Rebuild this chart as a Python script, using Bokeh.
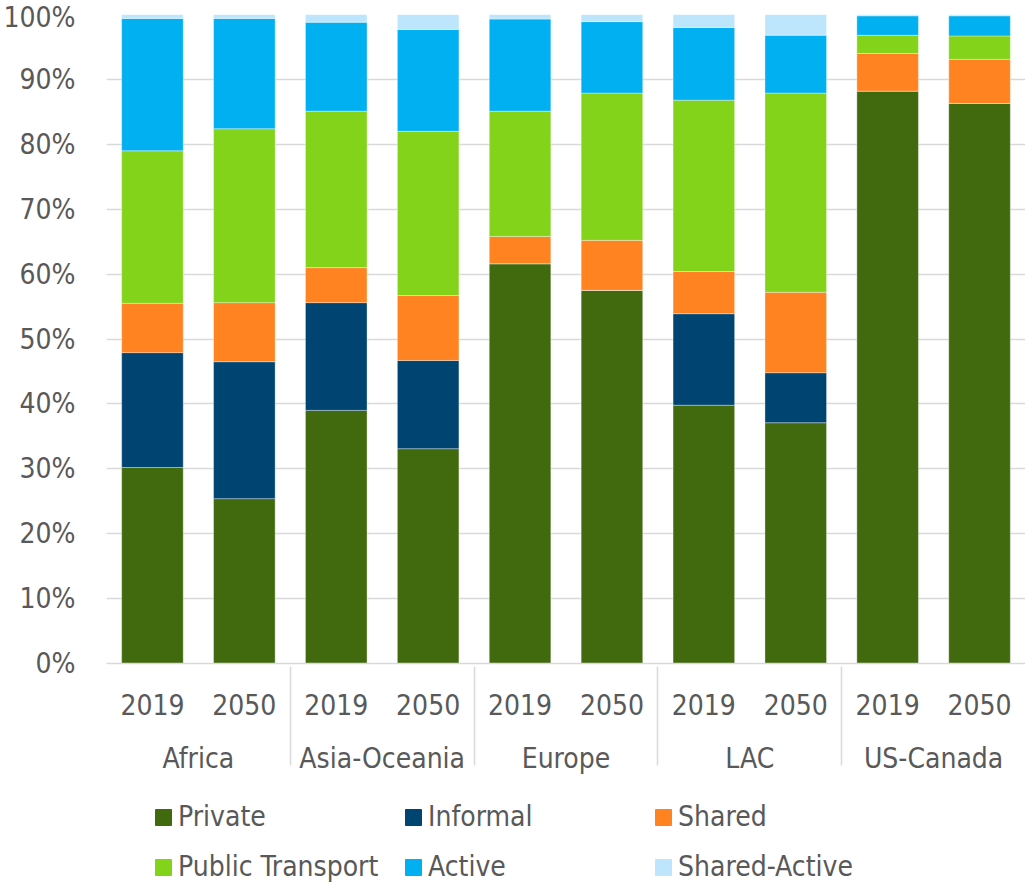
from bokeh.plotting import figure
from bokeh.layouts import column
from bokeh.models import (ColumnDataSource, FactorRange, Range1d, FixedTicker,
                          PrintfTickFormatter, Legend, LegendItem)
from bokeh.embed import file_html
from bokeh.resources import INLINE

regions = ["Africa", "Asia-Oceania", "Europe", "LAC", "US-Canada"]
years = ["2019", "2050"]

private = [30.2, 25.4, 39.0, 33.1, 61.6, 57.5, 39.8, 37.1, 88.2, 86.3]
informal = [17.7, 21.1, 16.6, 13.6, 0.0, 0.0, 14.1, 7.7, 0.0, 0.0]
shared = [7.6, 9.1, 5.4, 10.0, 4.2, 7.7, 6.5, 12.4, 5.8, 6.8]
public_transport = [23.5, 26.8, 24.1, 25.3, 19.3, 22.7, 26.4, 30.7, 2.8, 3.6]
active = [20.4, 17.0, 13.7, 15.7, 14.2, 11.0, 11.2, 8.9, 3.0, 3.1]
shared_active = [0.6, 0.6, 1.2, 2.3, 0.7, 1.1, 2.0, 3.2, 0.2, 0.2]

series_names = ["Private", "Informal", "Shared", "Public Transport", "Active", "Shared-Active"]
series_keys = ["private", "informal", "shared", "pt", "active", "sa"]
colors = ["#41690E", "#004472", "#FF8321", "#83D31A", "#00B0F0", "#BDE6FC"]

FONT = "DejaVu Sans Condensed"
FS = "28px"
TXT = "#595959"
GRID = "#D9D9D9"

factors = [(r, y) for r in regions for y in years]
source = ColumnDataSource(data=dict(
    x=factors, private=private, informal=informal, shared=shared,
    pt=public_transport, active=active, sa=shared_active))

# ---- main chart ----
p = figure(width=1025, height=788, output_backend="svg", toolbar_location=None,
           x_range=FactorRange(*factors, factor_padding=0, group_padding=0, range_padding=0),
           y_range=Range1d(0, 100),
           min_border_left=106, min_border_right=0, min_border_top=14, min_border_bottom=125)

p.vbar_stack(series_keys, x="x", width=0.67, source=source, color=colors,
             line_color="white", line_alpha=0.35, line_width=1)

p.outline_line_color = None
p.xgrid.grid_line_color = None
p.ygrid.grid_line_color = GRID
p.ygrid.grid_line_width = 1.5

yax = p.yaxis[0]
yax.ticker = FixedTicker(ticks=list(range(0, 101, 10)))
yax.formatter = PrintfTickFormatter(format="%d%%")
yax.axis_line_color = None
yax.major_tick_line_color = None
yax.minor_tick_line_color = None
yax.major_tick_out = 0
yax.minor_tick_out = 0
yax.major_label_standoff = 31
yax.major_label_text_font = FONT
yax.major_label_text_font_size = FS
yax.major_label_text_color = TXT

xax = p.xaxis[0]
xax.axis_line_color = GRID
xax.axis_line_width = 1.5
xax.major_tick_line_color = None
xax.major_label_text_font = FONT
xax.major_label_text_font_size = FS
xax.major_label_text_color = TXT
xax.major_label_standoff = 24
xax.group_text_font = FONT
xax.group_text_font_size = FS
xax.group_text_font_style = "normal"
xax.group_text_color = TXT
xax.group_label_orientation = "horizontal"
xax.separator_line_color = GRID
xax.separator_line_width = 1.5

# ---- legend strip ----
lg = figure(width=1025, height=95, output_backend="svg", toolbar_location=None,
            x_axis_location=None, y_axis_location=None, min_border=0,
            x_range=p.x_range, y_range=Range1d(101, 102))
lg.outline_line_color = None
lg.xgrid.visible = False
lg.ygrid.visible = False
lrend = lg.vbar_stack(series_keys, x="x", width=0.67, source=source, color=colors)

items = [LegendItem(label=n, renderers=[r]) for n, r in zip(series_names, lrend)]
legend = Legend(items=items, orientation="horizontal", ncols=3, location=(47, 0),
                label_text_font=FONT, label_text_font_size=FS, label_text_color=TXT,
                glyph_width=20, glyph_height=20, label_standoff=5, spacing=17,
                label_width=208,
                border_line_color=None, background_fill_alpha=0, padding=0, margin=0)
lg.add_layout(legend, "center")

open("out.html", "w").write(file_html(column(p, lg), INLINE))
